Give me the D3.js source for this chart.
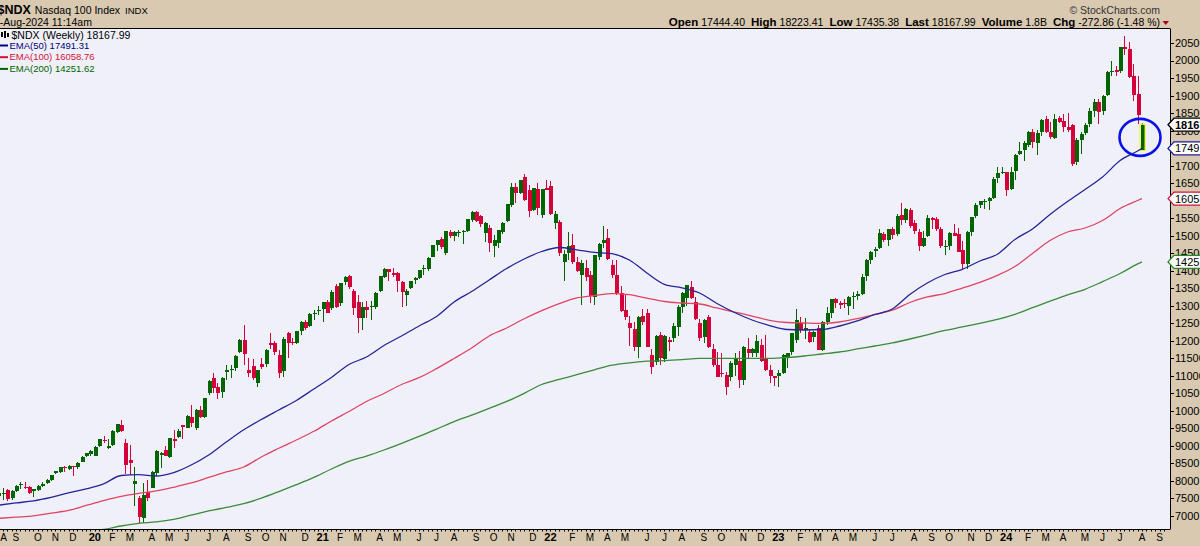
<!DOCTYPE html>
<html><head><meta charset="utf-8">
<script src="https://cdn.jsdelivr.net/npm/d3@7"></script>
<style>
html,body{margin:0;padding:0;background:#fff;overflow:hidden}
svg{display:block}
text{font-family:"Liberation Sans",Arial,sans-serif}
</style></head><body>
<svg id="c" width="1200" height="546"></svg>
<script>
// ---------------- DATA ----------------
// weekly candles [open, high, low, close]; first week starts Mon 2019-08-05
const firstWeekStart = "2019-08-05";
const candles2019 = [
[7560,7800,7340,7650],[7640,7790,7460,7655],[7743,7780,7438,7476],[7505,7740,7470,7724],
[7724,7880,7690,7857],[7880,7980,7762,7904],[7838,7961,7762,7800],[7819,7850,7620,7667],
[7724,7780,7530,7762],[7730,7880,7700,7857],[7857,7980,7820,7904],[7933,8050,7900,8028],
[8028,8180,8000,8171],[8219,8290,8190,8285],[8270,8400,8230,8394],[8400,8430,8270,8370],
[8330,8450,8310,8420],[8420,8440,8150,8390],[8390,8530,8350,8504],[8550,8700,8540,8690],
[8700,8800,8690,8790],[8760,8880,8700,8850]];
const candles2020 = [
[8720,9000,8700,8980],[9000,9200,8980,9189],[9170,9284,9075,9150],[8930,9190,8900,8990],
[9030,9450,9010,9427],[9400,9640,9380,9627],[9598,9741,9400,9440],[9075,9200,8200,8456],
[8600,9027,8170,8510],[7920,8400,7285,8000],[7524,7580,6810,6981],[6953,7933,6790,7600],
[7695,8028,7440,7524],[7809,8290,7790,8266],[8219,8880,8150,8865],[8742,8840,8362,8808],
[8884,9000,8700,8713],[8694,9230,8650,9218],[9210,9455,8950,9150],[9246,9480,9230,9427],
[9589,9600,9189,9550],[9521,9870,9500,9855],[9836,10170,9532,9665],[9521,10050,9450,10026],
[10026,10150,9800,9836],[9836,10380,9800,10360],[10502,10870,10450,10854],[10948,11073,10521,10645],
[10692,10788,10332,10502],[10549,10960,10380,10930],[11100,11311,10883,11180],[11180,11300,10950,11200],
[11216,11600,11150,11576],[11690,12050,11650,12023],[12023,12451,11300,11624],[11168,11500,10976,11090],
[11281,11480,10870,10930],[10788,11180,10673,11168],[11330,11500,11200,11262],[11330,11760,11250,11738],
[11930,12232,11757,11880],[11946,12000,11600,11690],[11595,11738,10930,11073],[11138,12100,10960,12050],
[12232,12250,11500,11946],[11960,12070,11880,11930],[11946,12290,11900,12280],[12280,12560,12170,12546],
[12529,12600,12300,12375],[12423,12790,12400,12777],[12760,12880,12600,12800],[12870,12990,12730,12890]];
const candles2021 = [
[12900,13120,12550,13100],[13117,13170,12786,12800],[12929,13440,12880,13402],[13565,13620,12940,12974],
[13071,13650,13000,13641],[13688,13850,13600,13831],[13850,13880,13470,13545],[13431,13470,12737,12929],
[13117,13300,12215,12660],[12643,13100,12309,12974],[12974,13150,12650,12880],[12970,13150,12600,13000],
[12974,13380,12900,13356],[13431,13850,13400,13845],[13831,14070,13800,14060],[14040,14060,13700,13973],
[13945,14080,13820,13879],[13945,13960,13402,13716],[13688,13700,12975,13403],[13308,13470,12990,13432],
[13498,13720,13480,13707],[13740,13820,13620,13790],[13780,14030,13760,14020],[14060,14150,13890,14087],
[14050,14380,14000,14372],[14401,14740,14380,14734],[14740,14880,14560,14877],[14897,14960,14630,14688],
[14515,15140,14460,15135],[15097,15160,14930,14993],[15000,15140,14860,15100],[15080,15150,14950,15110],
[15100,15150,14750,15135],[15135,15480,15100,15468],[15449,15700,15400,15686],[15667,15700,15400,15420],
[15563,15600,15250,15335],[15069,15400,14831,15354],[15211,15300,14543,14800],[14715,15030,14383,14877],
[14782,15170,14650,15163],[15116,15380,15050,15373],[15420,15900,15380,15895],[15876,16495,15830,16399],
[16380,16500,15924,16209],[16228,16600,16200,16590],[16685,16764,15980,16020],[16304,16460,15542,15713],
[15733,16360,15700,16352],[16323,16490,15600,15781],[15590,16330,15500,16323],[16352,16580,16300,16304]];
const candles2022 = [
[16418,16570,15600,15619],[15373,15700,15183,15619],[15401,15450,14420,14500],[14250,14600,13717,14477],
[14515,15100,14300,14706],[14734,15050,14200,14258],[14250,14400,13950,13992],[13878,14300,13020,14230],
[14087,14320,13700,13830],[13878,14000,13069,13279],[13260,14460,13020,14448],[14401,14780,14300,14753],
[14780,15265,14650,14877],[14925,15183,14300,14325],[14163,14320,13800,13878],[13878,14306,13320,13355],
[13355,13565,12820,12860],[12879,13300,12600,12688],[12499,12700,11850,12375],[12340,12550,11700,11835],
[11833,12700,11500,12688],[12700,12900,12440,12540],[12783,12900,11830,11833],[11600,11757,11044,11262],
[11405,12160,11300,12137],[12166,12250,11319,11519],[11471,12180,11400,12137],[12024,12100,11700,11976],
[12069,12520,11960,12422],[12403,13020,12140,12975],[12975,13380,12800,13355],[13212,13600,13000,13593],
[13545,13720,13200,13212],[13118,13250,12600,12614],[12499,12620,12000,12069],[12118,12620,11950,12595],
[12669,12740,11800,11833],[11757,11900,11250,11309],[11310,11690,10960,10977],[11073,11652,10977,11040],
[11020,11100,10440,10692],[10977,11420,10860,11357],[11310,11640,10990,11471],[11424,11700,10645,10882],
[10882,11850,10750,11833],[11757,12069,11520,11662],[11640,11800,11530,11757],[11662,12166,11530,12005],
[11881,12040,11400,11424],[11519,12170,11150,11167],[11167,11300,10788,10985],[10990,11000,10700,10940]];
const candles2023 = [
[11000,11160,10692,11073],[11080,11610,11050,11590],[11500,11660,11230,11643],[11690,12230,11600,12215],
[12024,12899,11950,12595],[12500,12680,12220,12310],[12310,12640,12060,12356],[12261,12300,11950,11976],
[12118,12290,11960,12261],[12356,12460,11730,11738],[11738,12560,11700,12528],[12528,12975,12440,12785],
[12785,13200,12650,13186],[13186,13210,12950,13090],[13070,13150,12900,13030],[13080,13200,12950,13037],
[13000,13290,12730,13245],[13240,13380,12920,13270],[13290,13420,13170,13340],[13340,13900,13300,13830],
[13840,14330,13700,14298],[14320,14560,14200,14546],[14560,14690,14400,14634],[14650,15180,14620,15083],
[15060,15100,14830,14891],[14880,15200,14700,15180],[15190,15250,14920,15034],[15050,15620,15000,15565],
[15600,15930,15300,15445],[15460,15800,15350,15757],[15740,15790,15220,15274],[15360,15460,15040,15129],
[15100,15180,14560,14695],[14720,15130,14670,14942],[14980,15580,14960,15497],[15510,15540,15200,15461],
[15470,15520,15140,15202],[15190,15260,14660,14701],[14700,14870,14460,14715],[14710,15100,14600,15080],
[15080,15320,14980,15004],[15040,15220,14530,14541],[14600,14860,14060,14180],[14180,15120,14060,15099],
[15110,15530,14980,15530],[15550,15940,15510,15867],[15880,16000,15800,15982],[15980,16060,15750,15997],
[16000,16110,15740,16085],[16080,16670,16040,16623],[16640,16970,16500,16777],[16800,16970,16770,16826]];
const candles2024 = [
[16810,16830,16140,16306],[16330,16970,16310,16832],[16840,17340,16600,17314],[17340,17670,17290,17421],
[17450,17700,17130,17643],[17600,18000,17530,17963],[17970,18040,17500,17686],[17650,18010,17290,17937],
[17960,18320,17850,18302],[18320,18420,17920,17962],[17950,18250,17750,17808],[17790,18470,17750,18339],
[18370,18420,18220,18255],[18270,18470,17950,18108],[18090,18500,17960,18004],[18150,18190,17000,17037],
[17090,17800,17030,17718],[17730,17950,17330,17891],[17930,18230,17880,18161],[18200,18650,18110,18546],
[18560,18900,18380,18809],[18830,18900,18200,18537],[18560,19030,18440,19000],[19020,19700,18980,19660],
[19690,19980,19560,19701],[19720,19850,19560,19683],[19700,20400,19650,20392],[20400,20690,20160,20332],
[20330,20530,19500,19523],[19550,19900,18850,19023],[19050,19560,18200,18440],
[17444.40,18223.41,17435.38,18167.99]];

// EMA values at 4-week steps
const emaDates = ["2019-08-05","2019-09-02","2019-09-30","2019-10-28","2019-11-25","2019-12-23",
"2020-01-20","2020-02-17","2020-03-16","2020-04-13","2020-05-11","2020-06-08","2020-07-06","2020-08-03",
"2020-08-31","2020-09-28","2020-10-26","2020-11-23","2020-12-21","2021-01-18","2021-02-15","2021-03-15",
"2021-04-12","2021-05-10","2021-06-07","2021-07-05","2021-08-02","2021-08-30","2021-09-27","2021-10-25",
"2021-11-22","2021-12-20","2022-01-17","2022-02-14","2022-03-14","2022-04-11","2022-05-09","2022-06-06",
"2022-07-04","2022-08-01","2022-08-29","2022-09-26","2022-10-24","2022-11-21","2022-12-19","2023-01-16",
"2023-02-13","2023-03-13","2023-04-10","2023-05-08","2023-06-05","2023-07-03","2023-07-31","2023-08-28",
"2023-09-25","2023-10-23","2023-11-20","2023-12-18","2024-01-15","2024-02-12","2024-03-11","2024-04-08",
"2024-05-06","2024-06-03","2024-07-01","2024-07-29","2024-08-05"];
const ema50 = [7309,7372,7429,7529,7657,7771,7914,8156,8179,8142,8239,8456,8741,9112,9463,9755,10026,10297,
10625,10953,11324,11538,11866,12137,12423,12694,13108,13407,13736,14064,14335,14549,14663,14598,14526,14486,
14307,13936,13613,13513,13365,13065,12808,12594,12437,12323,12309,12323,12423,12566,12751,12908,13322,13650,
13893,14041,14278,14472,14892,15191,15605,15976,16319,16675,17146,17418,17491.31];
const ema100 = [6932,6966,7001,7080,7158,7300,7440,7560,7643,7714,7820,7942,8099,8256,8399,8684,8933,9170,
9418,9712,9983,10268,10497,10753,10947,11207,11495,11795,12138,12366,12629,12862,13062,13225,13293,13347,
13316,13216,13122,13079,13051,12937,12822,12708,12586,12523,12509,12500,12537,12634,12751,12874,13094,13251,
13350,13507,13670,13870,14121,14492,14863,15106,15220,15434,15776,16005,16058.76];
const ema200 = [6087,6173,6287,6401,6487,6558,6618,6715,6792,6832,6904,7024,7143,7243,7352,7509,7697,7894,
8102,8342,8559,8710,8884,9073,9272,9478,9695,9877,10074,10271,10502,10753,10896,11033,11173,11304,11373,
11418,11435,11464,11501,11501,11501,11501,11501,11524,11567,11624,11681,11767,11852,11938,12052,12172,12295,
12395,12500,12611,12757,12945,13131,13311,13470,13690,13920,14195,14251.62];

const yTickValues = [7000,7500,8000,8500,9000,9500,10000,10500,11000,11500,12000,12500,13000,13500,
14000,14500,15000,15500,16000,16500,17000,17500,18000,18500,19000,19500,20000,20500];
const monthLetters = ["J","F","M","A","M","J","J","A","S","O","N","D"];
const quote = {open:"17444.40", high:"18223.41", low:"17435.38", last:"18167.99", volume:"1.8B", chg:"-272.86", chgPct:"(-1.48 %)"};
const title = {symbol:"$NDX", name:"Nasdaq 100 Index", exch:"INDX", stamp:"5-Aug-2024 11:14am"};
const emaLegend = [["EMA(50) 17491.31","#000080"],["EMA(100) 16058.76","#d0103a"],["EMA(200) 14251.62","#006400"]];

// ---------------- DRAW ----------------
const W = 1200, H = 546;
const P = {left:0, right:1170, top:28.5, bottom:529.5};
const COL = {tan:"#d8c9b0", bg:"#f0f0fa", up:"#006400", down:"#d4003a",
  e50:"#24249a", e100:"#e04462", e200:"#3a8a3a"};
const svg = d3.select("#c");

const parse = s => new Date(s + "T00:00:00Z");
const t0 = parse(firstWeekStart);
const candles = [].concat(candles2019, candles2020, candles2021, candles2022, candles2023, candles2024);
const data = candles.map((d,k) => ({date:d3.utcMonday.offset(t0,k), o:d[0], h:d[1], l:d[2], c:d[3]}));

const x = d3.scaleUtc().domain([parse("2020-01-06"), parse("2024-08-05")]).range([94.8, 1142]);
const y = d3.scaleLinear().domain([7000, 20500]).range([516, 43]);

svg.append("rect").attr("width",W).attr("height",H).attr("fill",COL.tan);
svg.append("rect").attr("x",P.left).attr("y",P.top).attr("width",P.right-P.left).attr("height",P.bottom-P.top).attr("fill",COL.bg);
svg.append("defs").append("clipPath").attr("id","clip").append("rect")
  .attr("x",P.left).attr("y",P.top).attr("width",P.right-P.left).attr("height",P.bottom-P.top);

const gPlot = svg.append("g").attr("clip-path","url(#clip)");
const gC = gPlot.append("g").attr("shape-rendering","crispEdges");
gC.selectAll("rect.w").data(data).join("rect").attr("class","w")
  .attr("x", d => Math.round(x(d.date)))
  .attr("width",1)
  .attr("y", d => y(d.h))
  .attr("height", d => Math.max(1, y(d.l)-y(d.h)))
  .attr("fill", d => d.c >= d.o ? COL.up : COL.down);
gC.selectAll("rect.b").data(data).join("rect").attr("class","b")
  .attr("x", d => Math.round(x(d.date)) - 1.5)
  .attr("width",4)
  .attr("y", d => y(Math.max(d.o,d.c)))
  .attr("height", d => Math.max(1, Math.abs(y(d.o)-y(d.c))))
  .attr("fill", d => d.c >= d.o ? COL.up : COL.down);

// highlighted last bar
const last = data[data.length-1];
gPlot.append("rect")
  .attr("x", Math.round(x(last.date)) - 2)
  .attr("width",5)
  .attr("y", y(last.c) - 0.5)
  .attr("height", y(last.o) - y(last.c) + 1)
  .attr("fill","none").attr("stroke","#f2f200").attr("stroke-width",1);

// EMA lines
const emaD = emaDates.map(parse);
const lineGen = d3.line().x((v,k) => x(emaD[k])).y(v => y(v)).curve(d3.curveMonotoneX);
[[ema200,COL.e200],[ema100,COL.e100],[ema50,COL.e50]].forEach(([arr,col]) => {
  gPlot.append("path").attr("d", lineGen(arr)).attr("fill","none").attr("stroke",col).attr("stroke-width",1.3);
});

// annotation ellipse around last bar
svg.append("ellipse")
  .attr("cx", x(last.date) - 2)
  .attr("cy", y((last.o + last.c)/2))
  .attr("rx",20.5).attr("ry",18.5)
  .attr("fill","none").attr("stroke","#0a10e8").attr("stroke-width",2.6);

// borders
svg.append("line").attr("x1",P.left).attr("x2",P.right).attr("y1",P.top).attr("y2",P.top).attr("stroke","#000");
svg.append("line").attr("x1",P.left).attr("x2",P.right).attr("y1",P.bottom).attr("y2",P.bottom).attr("stroke","#000");
svg.append("line").attr("x1",P.right+0.5).attr("x2",P.right+0.5).attr("y1",P.top).attr("y2",P.bottom).attr("stroke","#000");

// right axis
const gY = svg.append("g");
yTickValues.forEach(v => {
  const yy = Math.round(y(v)) + 0.5;
  gY.append("line").attr("x1",P.right).attr("x2",P.right+4).attr("y1",yy).attr("y2",yy).attr("stroke","#000");
  gY.append("text").attr("x",1175).attr("y",y(v)).attr("dy","0.36em").attr("font-size",11).attr("fill","#000").text(d3.format("d")(v));
});
// value tags
function tag(v, col, bold){
  const yy = y(v);
  gY.append("path").attr("d",`M${P.right-2},${yy} L${P.right+4},${yy-6.5} L1201,${yy-6.5} L1201,${yy+6.5} L${P.right+4},${yy+6.5} Z`)
    .attr("fill","#fff").attr("stroke",col).attr("stroke-width",1.3);
  gY.append("text").attr("x",1175).attr("y",yy).attr("dy","0.36em").attr("font-size",11)
    .attr("font-weight",bold?"bold":"normal").attr("fill","#000").text(d3.format(".2f")(v));
}
tag(ema200[ema200.length-1], "#2a8a2a", false);
tag(ema100[ema100.length-1], "#d0103a", false);
tag(ema50[ema50.length-1], "#1a1aa0", false);
tag(last.c, "#000", true);

// bottom axis: weekly ticks and month labels
const gX = svg.append("g");
const wkStart = parse("2019-07-29"), wkEnd = parse("2024-09-16");
d3.utcMonday.range(wkStart, wkEnd).forEach(d => {
  const xx = Math.round(x(d)) + 0.5;
  if (xx < 0 || xx > P.right) return;
  gX.append("line").attr("x1",xx).attr("x2",xx).attr("y1",P.bottom).attr("y2",P.bottom+2).attr("stroke","#000");
});
d3.utcMonth.range(parse("2019-08-01"), parse("2024-10-01")).forEach(m => {
  const fm = d3.utcMonday.ceil(m);
  let xx = x(fm);
  if (xx > P.right - 3) return;
  xx = Math.max(xx, 3.5);
  const isYear = m.getUTCMonth() === 0;
  gX.append("text").attr("x",xx).attr("y",541).attr("text-anchor","middle")
    .attr("font-size", isYear ? 11 : 10).attr("font-weight", isYear ? "bold" : "normal").attr("fill","#000")
    .text(isYear ? String(m.getUTCFullYear()).slice(2) : monthLetters[m.getUTCMonth()]);
});

// header
const hdr = svg.append("g");
const t1 = hdr.append("text").attr("x",-2.5).attr("y",14).attr("fill","#000");
t1.append("tspan").attr("font-size",12.5).attr("font-weight","bold").text(title.symbol);
t1.append("tspan").attr("font-size",10.5).attr("dx",4).text(title.name);
t1.append("tspan").attr("font-size",9.5).attr("dx",5).text(title.exch);
hdr.append("text").attr("x",-6).attr("y",26).attr("font-size",10.5).attr("fill","#000").text(title.stamp);

hdr.append("text").attr("x",1160).attr("y",14).attr("text-anchor","end").attr("font-size",10.5).attr("fill","#333").text("\u00A9 StockCharts.com");
const q = hdr.append("text").attr("x",1160).attr("y",26).attr("text-anchor","end").attr("fill","#000");
[["Open",quote.open],["High",quote.high],["Low",quote.low],["Last",quote.last],["Volume",quote.volume],["Chg",quote.chg + " " + quote.chgPct]]
  .forEach(([lab,val],k) => {
    q.append("tspan").attr("font-size",11.5).attr("font-weight","bold").attr("dx", k ? 6 : 0).text(lab);
    q.append("tspan").attr("font-size",10.5).attr("dx",3).text(val);
  });
hdr.append("path").attr("d","M1162.5,21 L1169,21 L1165.75,25 Z").attr("fill","#a80028");

// legend inside plot
const lg = svg.append("g");
lg.append("rect").attr("x",1).attr("y",32).attr("width",2).attr("height",5).attr("fill","#000");
lg.append("rect").attr("x",4).attr("y",31).attr("width",2).attr("height",7).attr("fill","#000");
lg.append("rect").attr("x",7).attr("y",33).attr("width",2).attr("height",4).attr("fill","#000");
lg.append("text").attr("x",11.5).attr("y",38.5).attr("font-family","'DejaVu Sans Mono',monospace").attr("font-size",10.5)
  .attr("fill","#000").text(title.symbol + " (Weekly) " + quote.last);
emaLegend.forEach(([txt,col],k) => {
  const by = 48.5 + k*11.7;
  lg.append("rect").attr("x",0).attr("y",by-4).attr("width",8).attr("height",2).attr("fill",col);
  lg.append("text").attr("x",9.5).attr("y",by).attr("font-size",9.5).attr("fill",col).text(txt);
});
</script></body></html>
